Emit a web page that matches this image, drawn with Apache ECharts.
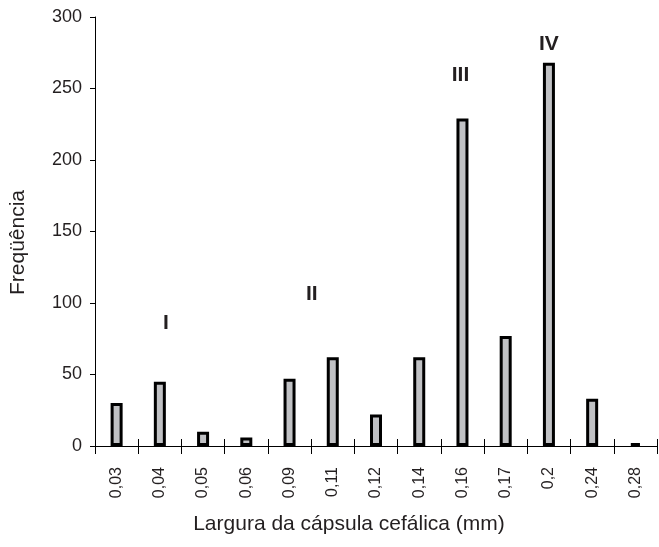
<!DOCTYPE html>
<html><head><meta charset="utf-8">
<script src="https://cdn.jsdelivr.net/npm/echarts@6/dist/echarts.min.js"></script>
<style>html,body{margin:0;padding:0;background:#fff}#c{width:659px;height:547px}</style>
</head><body><div id="c"></div>
<script>
const categories = ['0,03','0,04','0,05','0,06','0,09','0,11','0,12','0,14','0,16','0,17','0,2','0,24','0,28'];
const frequencies = [30,45,10,6,47,62,22,62,229,77,268,33,2];
const instarLabels = ['I','II','III','IV'];
const instarCategory = ['0,04','0,11','0,16','0,2'];
const instarLabelValue = [86,106,259,281];
const instarLabelShift = [6,-21,-2,0];
const yTicks = [0,50,100,150,200,250,300];

const font = 'Liberation Sans, Arial, sans-serif';
const txt = '#231f20';
const chart = echarts.init(document.getElementById('c'));
chart.setOption({
  animation:false,
  grid:{left:95,right:2,top:17,bottom:101,containLabel:false,outerBoundsMode:'none'},
  xAxis:[{
    type:'category', data:categories, boundaryGap:true,
    axisLine:{lineStyle:{color:'#000',width:1}},
    axisTick:{show:true,length:8,lineStyle:{color:'#000'}},
    axisLabel:{rotate:90,margin:21,color:txt,fontFamily:font,fontSize:16},
    name:'Largura da cápsula cefálica (mm)', nameLocation:'middle', nameGap:68,
    nameTextStyle:{fontFamily:font,fontSize:21,color:txt,padding:[0,54,0,0]}
  },{
    type:'category', data:categories, boundaryGap:true, position:'bottom',
    axisLine:{show:false}, axisLabel:{show:false},
    axisTick:{show:true,inside:true,length:7,lineStyle:{color:'#000'}}
  }],
  yAxis:{
    type:'value', min:0, max:300, interval:50,
    axisLine:{show:true,lineStyle:{color:'#000',width:1}},
    axisTick:{show:true,length:5,lineStyle:{color:'#000'}},
    splitLine:{show:false},
    axisLabel:{color:txt,fontFamily:font,fontSize:18,margin:13,
      formatter:v=>yTicks.includes(v)?String(v):''},
    name:'Freqüência', nameLocation:'middle', nameGap:66,
    nameTextStyle:{fontFamily:font,fontSize:21,color:txt,padding:[0,22,0,0]}
  },
  series:[{
    type:'bar', data:frequencies, barWidth:12,
    itemStyle:{color:'#c0c1c4',borderColor:'#000',borderWidth:3},
    markPoint:{
      symbol:'circle', symbolSize:0,
      label:{show:true,position:'inside',formatter:p=>p.name,
        fontFamily:font,fontSize:21,fontWeight:'bold',color:txt},
      data:instarLabels.map((n,i)=>({name:n,coord:[instarCategory[i],instarLabelValue[i]],
        label:{offset:[instarLabelShift[i],0]}}))
    }
  }]
});
</script></body></html>
